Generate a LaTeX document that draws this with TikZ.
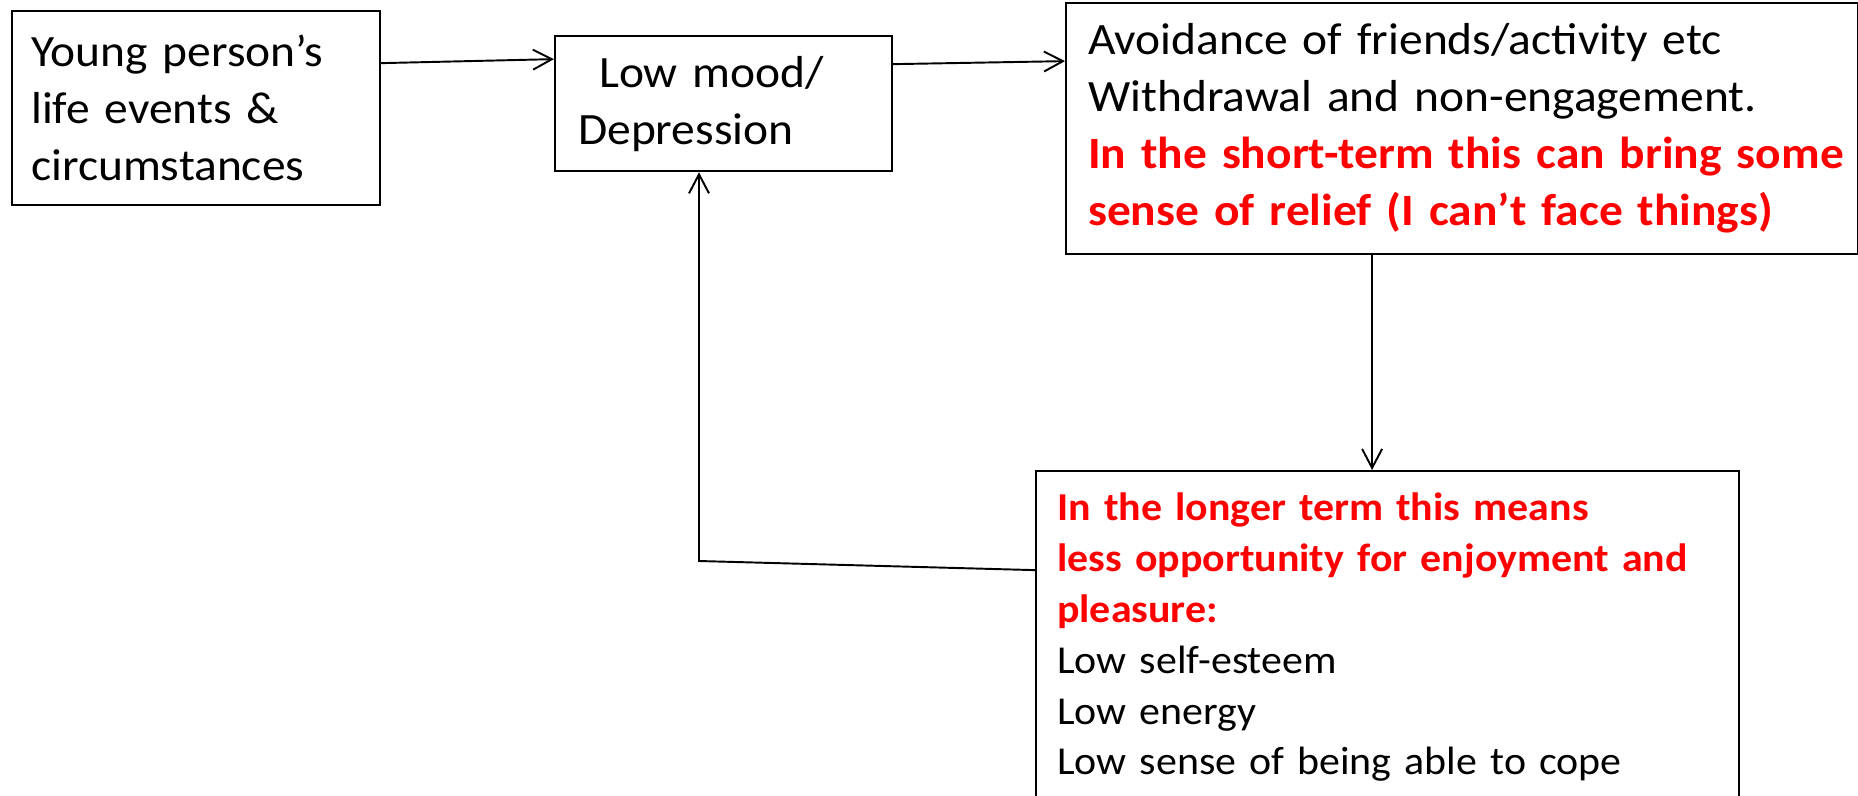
\documentclass[tikz,border=0pt]{standalone}
\usepackage{fontspec}
\setmainfont{Carlito}[FakeStretch=1.06]
\usetikzlibrary{arrows.meta,calc}
\definecolor{notered}{RGB}{255,0,0}
\newcommand{\bigtext}{\fontsize{25.5}{32.4}\selectfont}
\newcommand{\smalltext}{\fontsize{22.5}{29}\selectfont}
\tikzset{
  panel/.style={draw=black, line width=1.3pt, anchor=north west, align=left, inner ysep=0pt},
  flow/.style={-{Straight Barb[length=3.8mm,width=4mm]}, line width=1.1pt}
}

\begin{document}
\begin{tikzpicture}[x=0.02cm, y=-0.02cm]
  \useasboundingbox (0,0) rectangle (1858,795);

  \node[panel, minimum width=7.36cm, minimum height=3.88cm, inner xsep=0.38cm, text width=6.6cm, font=\bigtext]
    (young) at (11,10) {Young person's\\life events \&\\circumstances};
  \node[panel, minimum width=6.74cm, minimum height=2.7cm, inner xsep=0.46cm, text width=5.82cm, font=\bigtext]
    (mood) at (554,35) {\hspace*{0.42cm}Low mood/\\Depression};
  \node[panel, minimum width=15.84cm, minimum height=5.02cm, inner xsep=0.44cm, text width=14.96cm, font=\bigtext]
    (avoid) at (1065,2) {Avoidance of friends/activity etc\\Withdrawal and non-engagement.\\
    \mbox{\textcolor{notered}{\bfseries In the short-term this can bring some}}\\
    \mbox{\textcolor{notered}{\bfseries sense of relief (I can't face things)}}};
  \node[panel, minimum width=14.06cm, minimum height=6.64cm, inner xsep=0.42cm, text width=13.22cm, font=\smalltext]
    (longer) at (1035,470) {\textcolor{notered}{\bfseries In the longer term this means}\\
    \textcolor{notered}{\bfseries less opportunity for enjoyment and}\\
    \textcolor{notered}{\bfseries pleasure:}\\
    Low self-esteem\\Low energy\\Low sense of being able to cope};

  \coordinate (bend) at (699,561);

  \draw[flow] ([yshift=0.9cm]young.east) -- ([yshift=0.89cm]mood.west);
  \draw[flow] ([yshift=0.79cm]mood.east) -- ([yshift=1.35cm]avoid.west);
  \draw[flow] ([xshift=-1.8cm]avoid.south) -- ([xshift=-1.8cm]avoid.south |- longer.north);
  \draw[flow] ([yshift=1.34cm]longer.west) -- (bend) -- (bend |- mood.south);
\end{tikzpicture}
\end{document}
